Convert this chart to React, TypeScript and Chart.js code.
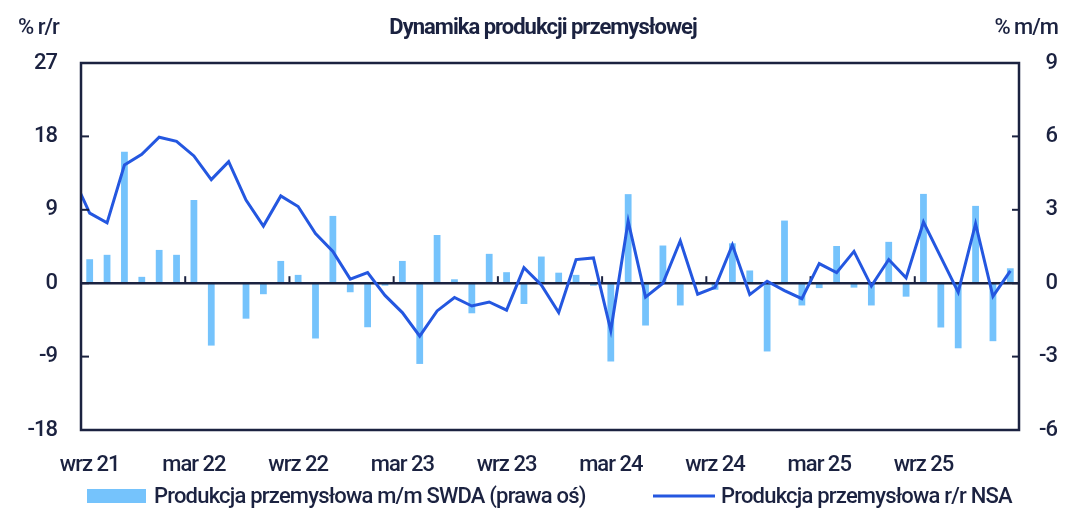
import React, { useEffect, useRef } from "react";
import { Chart, registerables } from "chart.js";

Chart.register(...registerables);

// Monthly categories: sie 21 (hidden, only feeds the line's left edge) .. lut 26
const months = [
  "sie 21", "wrz 21", "paź 21", "lis 21", "gru 21",
  "sty 22", "lut 22", "mar 22", "kwi 22", "maj 22", "cze 22", "lip 22", "sie 22", "wrz 22", "paź 22", "lis 22", "gru 22",
  "sty 23", "lut 23", "mar 23", "kwi 23", "maj 23", "cze 23", "lip 23", "sie 23", "wrz 23", "paź 23", "lis 23", "gru 23",
  "sty 24", "lut 24", "mar 24", "kwi 24", "maj 24", "cze 24", "lip 24", "sie 24", "wrz 24", "paź 24", "lis 24", "gru 24",
  "sty 25", "lut 25", "mar 25", "kwi 25", "maj 25", "cze 25", "lip 25", "sie 25", "wrz 25", "paź 25", "lis 25", "gru 25",
  "sty 26", "lut 26",
];

// Produkcja przemysłowa m/m SWDA (prawa oś), %
const momSwda = [
  null, 0.98, 1.16, 5.37, 0.26,
  1.36, 1.16, 3.4, -2.55, 0.0, -1.45, -0.45, 0.91, 0.34, -2.26, 2.75, -0.37,
  -1.8, -0.1, 0.91, -3.3, 1.97, 0.16, -1.23, 1.2, 0.45, -0.85, 1.09, 0.43,
  0.34, -0.1, -3.2, 3.64, -1.73, 1.54, -0.91, -0.05, -0.27, 1.63, 0.52, -2.79,
  2.56, -0.91, -0.2, 1.52, -0.18, -0.91, 1.69, -0.55, 3.65, -1.81, -2.66, 3.16,
  -2.37, 0.61,
];

// Produkcja przemysłowa r/r NSA, %
const yoyNsa = [
  13.2, 8.6, 7.4, 14.5, 15.8,
  17.9, 17.4, 15.6, 12.7, 14.9, 10.2, 7.0, 10.7, 9.4, 6.1, 3.9, 0.5,
  1.3, -1.5, -3.6, -6.5, -3.4, -1.75, -2.8, -2.3, -3.3, 1.9, -0.2, -3.6,
  2.9, 3.1, -5.8, 7.6, -1.7, 0.0, 5.2, -1.35, -0.5, 4.7, -1.4, 0.25,
  -0.9, -1.9, 2.4, 1.3, 3.9, -0.35, 2.9, 0.65, 7.5, 3.2, -1.1, 7.3,
  -1.6, 1.5,
];

const leftTicks = [-18, -9, 0, 9, 18, 27];
const rightTicks = [-6, -3, 0, 3, 6, 9];

const TITLE = "Dynamika produkcji przemysłowej";
const LEFT_UNIT = "% r/r";
const RIGHT_UNIT = "% m/m";
const BAR_LABEL = "Produkcja przemysłowa m/m SWDA (prawa oś)";
const LINE_LABEL = "Produkcja przemysłowa r/r NSA";

const INK = "#1b2240";
const BAR_COLOR = "#75c3fc";
const LINE_COLOR = "#2457e0";
const FONT = "Roboto, 'Noto Sans', sans-serif";

const decorPlugin = {
  id: "decor",
  beforeDraw(chart: any) {
    (chart.ctx as any).letterSpacing = "-1px";
  },
  afterDatasetDraw(chart: any, args: any) {
    if (args.meta.type !== "bar") return;
    const { ctx, chartArea } = chart;
    const x = chart.scales.x;
    const y = chart.scales.y;
    const y0 = y.getPixelForValue(0);
    ctx.save();
    ctx.strokeStyle = INK;
    ctx.lineWidth = 2.5;
    ctx.beginPath();
    ctx.moveTo(chartArea.left, y0);
    ctx.lineTo(chartArea.right, y0);
    ctx.stroke();
    // half-year boundary ticks on zero line
    const half = (x.getPixelForValue(1) - x.getPixelForValue(0)) / 2;
    ctx.lineWidth = 2;
    for (let i = 2; i < months.length; i++) {
      const m = months[i].slice(0, 3);
      if (m === "mar" || m === "wrz") {
        const px = x.getPixelForValue(i) - half;
        ctx.beginPath();
        ctx.moveTo(px, y0);
        ctx.lineTo(px, y0 - 7);
        ctx.stroke();
      }
    }
    ctx.restore();
  },
  afterDraw(chart: any) {
    const { ctx, chartArea } = chart;
    const yL = chart.scales.y;
    const yR = chart.scales.y1;
    ctx.save();
    ctx.strokeStyle = INK;
    ctx.lineWidth = 2.5;
    ctx.strokeRect(chartArea.left, chartArea.top, chartArea.right - chartArea.left, chartArea.bottom - chartArea.top);
    ctx.lineWidth = 2;
    leftTicks.forEach((v) => {
      const py = yL.getPixelForValue(v);
      ctx.beginPath();
      ctx.moveTo(chartArea.left, py);
      ctx.lineTo(chartArea.left + 8, py);
      ctx.stroke();
    });
    rightTicks.forEach((v) => {
      const py = yR.getPixelForValue(v);
      ctx.beginPath();
      ctx.moveTo(chartArea.right, py);
      ctx.lineTo(chartArea.right - 7, py);
      ctx.stroke();
    });
    // titles
    ctx.fillStyle = INK;
    ctx.textBaseline = "middle";
    ctx.font = `bold 22px ${FONT}`;
    ctx.letterSpacing = "-1px";
    ctx.textAlign = "center";
    ctx.fillText(TITLE, 543, 28);
    ctx.font = `500 22px ${FONT}`;
    ctx.letterSpacing = "-1px";
    ctx.textAlign = "left";
    ctx.fillText(LEFT_UNIT, 18, 28);
    ctx.textAlign = "right";
    ctx.fillText(RIGHT_UNIT, 1058, 28);
    // legend
    ctx.letterSpacing = "-0.8px";
    ctx.textAlign = "left";
    ctx.fillStyle = BAR_COLOR;
    ctx.fillRect(87, 489, 59, 14);
    ctx.fillStyle = INK;
    ctx.fillText(BAR_LABEL, 154, 497);
    ctx.strokeStyle = LINE_COLOR;
    ctx.lineWidth = 3;
    ctx.beginPath();
    ctx.moveTo(653, 496);
    ctx.lineTo(715, 496);
    ctx.stroke();
    ctx.fillText(LINE_LABEL, 721, 497);
    ctx.restore();
    (ctx as any).letterSpacing = "0px";
  },
};

export default function App() {
  const ref = useRef<HTMLCanvasElement | null>(null);
  useEffect(() => {
    document.body.style.margin = "0";
    const canvas = ref.current!;
    const tickFont = { family: FONT, size: 22, weight: "500" as any };
    const chart = new Chart(canvas, {
      type: "bar",
      data: {
        labels: months,
        datasets: [
          {
            type: "line",
            label: LINE_LABEL,
            data: yoyNsa,
            yAxisID: "y",
            borderColor: LINE_COLOR,
            borderWidth: 3,
            pointRadius: 0,
            tension: 0,
            order: 0,
          } as any,
          {
            type: "bar",
            label: BAR_LABEL,
            data: momSwda,
            yAxisID: "y1",
            backgroundColor: BAR_COLOR,
            borderWidth: 0,
            barPercentage: 0.39,
            categoryPercentage: 1,
            order: 1,
          },
        ],
      },
      options: {
        responsive: false,
        animation: false,
        layout: { padding: { top: 63, left: 0, right: 16, bottom: 0 } },
        plugins: {
          legend: { display: false },
          title: { display: false },
          tooltip: { enabled: false },
        },
        scales: {
          x: {
            min: 1,
            offset: true,
            grid: { display: false, drawTicks: false },
            border: { display: false },
            ticks: {
              autoSkip: false,
              maxRotation: 0,
              padding: 22,
              color: INK,
              font: tickFont,
              callback: function (this: any, value: any) {
                const lab = months[value as number];
                const m = lab.slice(0, 3);
                return m === "mar" || m === "wrz" ? lab : "";
              },
            },
            afterFit: (s: any) => {
              s.height = 78;
            },
          },
          y: {
            position: "left",
            min: -18,
            max: 27,
            grid: { display: false, drawTicks: false },
            border: { display: false },
            ticks: {
              stepSize: 9,
              padding: 24,
              color: INK,
              font: tickFont,
            },
            afterFit: (s: any) => {
              s.width = 81;
            },
          },
          y1: {
            position: "right",
            min: -6,
            max: 9,
            grid: { display: false, drawTicks: false },
            border: { display: false },
            ticks: {
              stepSize: 3,
              padding: 7,
              crossAlign: "far",
              color: INK,
              font: tickFont,
            },
            afterFit: (s: any) => {
              s.width = 38;
            },
          },
        },
      },
      plugins: [decorPlugin],
    });
    return () => chart.destroy();
  }, []);
  return (
    <div style={{ width: 1073, height: 508, background: "#fff" }}>
      <canvas ref={ref} width={1073} height={508} style={{ display: "block" }} />
    </div>
  );
}
